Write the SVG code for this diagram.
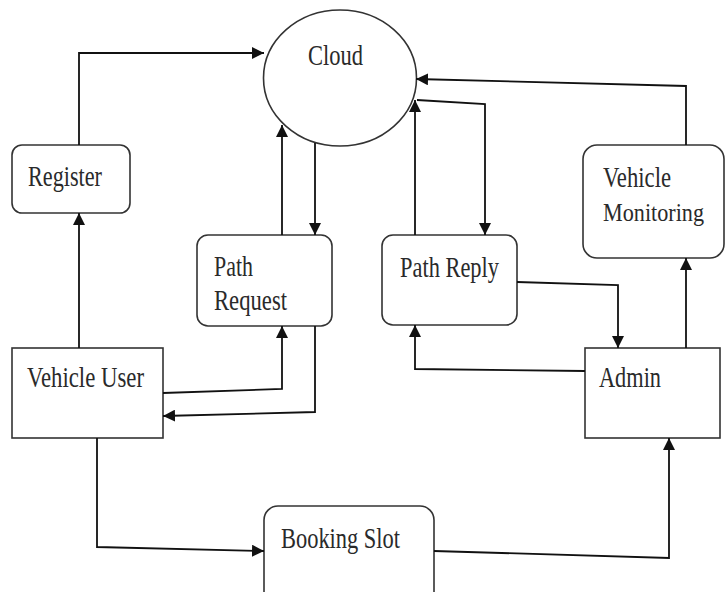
<svg xmlns="http://www.w3.org/2000/svg" width="726" height="592" viewBox="0 0 726 592">
<style>
.node{fill:#fff;stroke:#333;stroke-width:1.6}
.lbl{font-family:"Liberation Serif","Times New Roman",serif;font-size:29px;fill:#2a2a2a}
.conn{fill:none;stroke:#111;stroke-width:1.8}
</style>
<defs>
<marker id="ah" markerUnits="userSpaceOnUse" markerWidth="14" markerHeight="12" refX="12" refY="6" orient="auto">
<path d="M0,0 L12,6 L0,12 Z" fill="#111"/>
</marker>
</defs>
<rect width="726" height="592" fill="#fff"/>
<g id="cloud">
<ellipse class="node" cx="340" cy="78" rx="76.5" ry="68"/>
<text class="lbl" x="308" y="65" textLength="55" lengthAdjust="spacingAndGlyphs">Cloud</text>
</g>
<g id="register">
<rect class="node" x="12" y="145" width="118" height="68" rx="10"/>
<text class="lbl" x="28" y="186" textLength="74" lengthAdjust="spacingAndGlyphs">Register</text>
</g>
<g id="path-request">
<rect class="node" x="197" y="235" width="135" height="91" rx="11"/>
<text class="lbl" x="214" y="276" textLength="39" lengthAdjust="spacingAndGlyphs">Path</text>
<text class="lbl" x="214" y="310" textLength="73" lengthAdjust="spacingAndGlyphs">Request</text>
</g>
<g id="path-reply">
<rect class="node" x="382" y="235" width="135" height="90" rx="11"/>
<text class="lbl" x="400" y="277" textLength="99" lengthAdjust="spacingAndGlyphs">Path Reply</text>
</g>
<g id="vehicle-monitoring">
<rect class="node" x="583" y="145" width="141" height="113" rx="14"/>
<text class="lbl" x="603" y="187" textLength="68" lengthAdjust="spacingAndGlyphs">Vehicle</text>
<text class="lbl" x="603" y="221" font-size="26" style="font-size:26px" textLength="101" lengthAdjust="spacingAndGlyphs">Monitoring</text>
</g>
<g id="vehicle-user">
<rect class="node" x="12" y="348" width="151" height="90"/>
<text class="lbl" x="27" y="387" textLength="117" lengthAdjust="spacingAndGlyphs">Vehicle User</text>
</g>
<g id="admin">
<rect class="node" x="585" y="348" width="135" height="90"/>
<text class="lbl" x="599" y="387" textLength="62" lengthAdjust="spacingAndGlyphs">Admin</text>
</g>
<g id="booking-slot">
<rect class="node" x="264" y="506" width="170" height="100" rx="14"/>
<text class="lbl" x="281" y="548" textLength="119" lengthAdjust="spacingAndGlyphs">Booking Slot</text>
</g>
<g id="connectors">
<path class="conn" marker-end="url(#ah)" d="M79,145 V53 H264"/>
<path class="conn" marker-end="url(#ah)" d="M79,348 V213"/>
<path class="conn" marker-end="url(#ah)" d="M282,235 V125"/>
<path class="conn" marker-end="url(#ah)" d="M315,143 V235"/>
<path class="conn" marker-end="url(#ah)" d="M163,393 L282,389 V326"/>
<path class="conn" marker-end="url(#ah)" d="M315,326 V412 L163,416"/>
<path class="conn" marker-end="url(#ah)" d="M97,438 V547 L264,551"/>
<path class="conn" marker-end="url(#ah)" d="M434,551 L669,558 V438"/>
<path class="conn" marker-end="url(#ah)" d="M585,371 L415,369 V325"/>
<path class="conn" marker-end="url(#ah)" d="M415,235 V100"/>
<path class="conn" marker-end="url(#ah)" d="M417,100 L485,104 V235"/>
<path class="conn" marker-end="url(#ah)" d="M517,282 L618,285 V348"/>
<path class="conn" marker-end="url(#ah)" d="M686,348 V258"/>
<path class="conn" marker-end="url(#ah)" d="M686,145 V86 L416,79"/>
</g>
</svg>
